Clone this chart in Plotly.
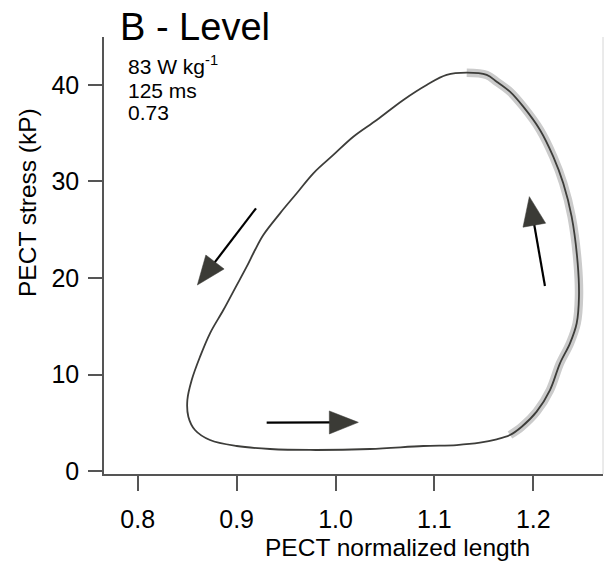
import numpy as np
import plotly.graph_objects as go

# ---- data ----
loop_x = [1.1327, 1.1124, 1.0922, 1.0686, 1.0417, 1.0180, 0.9978, 0.9776, 0.9608, 0.9439,
          0.9270, 0.9186, 0.9102, 0.8984, 0.8866, 0.8731, 0.8630, 0.8546, 0.8502, 0.8512,
          0.8579, 0.8731, 0.9001, 0.9338, 0.9742, 1.0349, 1.0888, 1.1226, 1.1461, 1.1630,
          1.1764, 1.1883, 1.2034, 1.2169, 1.2270, 1.2371, 1.2439, 1.2462, 1.2449, 1.2388,
          1.2303, 1.2202, 1.2068, 1.1899, 1.1764, 1.1630, 1.1529, 1.1327]
loop_y = [41.27, 41.04, 40.00, 38.45, 36.37, 34.64, 32.75, 30.85, 28.78, 26.70,
          24.46, 22.90, 21.17, 18.93, 16.68, 14.27, 11.84, 9.43, 7.36, 5.63,
          4.25, 3.21, 2.59, 2.28, 2.18, 2.28, 2.59, 2.69, 2.93, 3.28,
          3.73, 4.59, 6.15, 8.39, 11.16, 13.23, 15.31, 18.06, 21.52, 26.35,
          29.81, 32.57, 35.34, 37.75, 39.31, 40.34, 41.04, 41.27]

# highlighted (shortening) part of the loop
highlight_x = [1.1764, 1.1883, 1.2034, 1.2169, 1.2270, 1.2371, 1.2439, 1.2462, 1.2449, 1.2388,
               1.2303, 1.2202, 1.2068, 1.1899, 1.1764, 1.1630, 1.1529, 1.1327]
highlight_y = [3.73, 4.59, 6.15, 8.39, 11.16, 13.23, 15.31, 18.06, 21.52, 26.35,
               29.81, 32.57, 35.34, 37.75, 39.31, 40.34, 41.04, 41.27]

# direction arrows: (tail x, tail y, tip x, tip y)
arrow_tail_x = [0.9196, 0.9304, 1.2118]
arrow_tail_y = [27.22, 5.01, 19.17]
arrow_tip_x = [0.8603, 1.0231, 1.1960]
arrow_tip_y = [19.27, 5.04, 28.43]

x_ticks = [0.8, 0.9, 1.0, 1.1, 1.2]
x_tick_labels = ["0.8", "0.9", "1.0", "1.1", "1.2"]
y_ticks = [0, 10, 20, 30, 40]
y_tick_labels = ["0", "10", "20", "30", "40"]

title_text = "B - Level"
info_lines = ["83 W kg<sup>-1</sup>", "125 ms", "0.73"]
x_title = "PECT normalized length"
y_title = "PECT stress (kP)"

# ---- layout geometry ----
W, H = 605, 569
ML, MR, MT, MB = 104, 2, 37, 95
PW, PH = W - ML - MR, H - MT - MB
XR = [0.7659, 1.2705]
YR = [-0.31, 44.97]
sx = PW / (XR[1] - XR[0])
sy = PH / (YR[1] - YR[0])

FONT = "Liberation Sans, Arial, Helvetica, sans-serif"
AXC = "#555555"
LINEC = "#3d3d3a"
HEADC = "#3b3b36"

fig = go.Figure()

fig.add_trace(go.Scatter(x=highlight_x, y=highlight_y, mode="lines",
                         line=dict(color="#cbcbcb", width=8.5, shape="spline", smoothing=1.0),
                         hoverinfo="skip", showlegend=False))
fig.add_trace(go.Scatter(x=loop_x, y=loop_y, mode="lines",
                         line=dict(color=LINEC, width=1.8, shape="spline", smoothing=1.0),
                         showlegend=False))

HEAD_L, HEAD_W = 29, 23
for tx0, ty0, tx1, ty1 in zip(arrow_tail_x, arrow_tail_y, arrow_tip_x, arrow_tip_y):
    # direction in pixel space
    dx = (tx1 - tx0) * sx
    dy = (ty1 - ty0) * sy
    n = np.hypot(dx, dy)
    ux, uy = dx / n, dy / n
    bx = tx1 - HEAD_L * ux / sx
    by = ty1 - HEAD_L * uy / sy
    px, py = -uy, ux
    c1 = (bx + HEAD_W / 2 * px / sx, by + HEAD_W / 2 * py / sy)
    c2 = (bx - HEAD_W / 2 * px / sx, by - HEAD_W / 2 * py / sy)
    fig.add_trace(go.Scatter(x=[tx0, bx + 2 * ux / sx], y=[ty0, by + 2 * uy / sy], mode="lines",
                             line=dict(color="black", width=2.2),
                             hoverinfo="skip", showlegend=False))
    fig.add_trace(go.Scatter(x=[tx1, c1[0], c2[0], tx1], y=[ty1, c1[1], c2[1], ty1],
                             mode="lines", fill="toself", fillcolor=HEADC,
                             line=dict(color=HEADC, width=0.5),
                             hoverinfo="skip", showlegend=False))


def px2paper_x(p):
    return (p - ML) / PW


def px2paper_y(p):
    return (H - MB - p) / PH


ann = []
ann.append(dict(text=title_text, x=px2paper_x(118), y=px2paper_y(27), xref="paper", yref="paper",
                xanchor="left", yanchor="middle", showarrow=False,
                font=dict(family=FONT, size=38, color="black")))
for line, base in zip(info_lines, [75, 98, 121]):
    ann.append(dict(text=line, x=px2paper_x(126), y=px2paper_y(base + 5.5), xref="paper", yref="paper",
                    xanchor="left", yanchor="bottom", showarrow=False,
                    font=dict(family=FONT, size=21, color="black")))
ann.append(dict(text=x_title, x=px2paper_x(397), y=px2paper_y(547), xref="paper", yref="paper",
                xanchor="center", yanchor="middle", showarrow=False,
                font=dict(family=FONT, size=24.5, color="black")))
ann.append(dict(text=y_title, x=px2paper_x(27), y=px2paper_y(203), xref="paper", yref="paper",
                xanchor="center", yanchor="middle", showarrow=False, textangle=-90,
                font=dict(family=FONT, size=24.5, color="black")))

fig.update_layout(
    width=W, height=H,
    margin=dict(l=ML, r=MR, t=MT, b=MB),
    paper_bgcolor="white", plot_bgcolor="white",
    showlegend=False,
    annotations=ann,
    shapes=[dict(type="line", xref="paper", yref="paper", x0=1, x1=1, y0=0, y1=1,
                 line=dict(color="#d6d6d6", width=1))],
    xaxis=dict(range=XR, showgrid=False, zeroline=False, showline=True, linecolor=AXC, linewidth=1.5,
               ticks="outside", ticklen=15, tickwidth=1.5, tickcolor=AXC,
               tickvals=x_ticks, ticktext=x_tick_labels,
               tickfont=dict(family=FONT, size=25, color="black"), ticklabelstandoff=7),
    yaxis=dict(range=YR, showgrid=False, zeroline=False, showline=True, linecolor=AXC, linewidth=1.5,
               ticks="outside", ticklen=14, tickwidth=1.5, tickcolor=AXC,
               tickvals=y_ticks, ticktext=y_tick_labels,
               tickfont=dict(family=FONT, size=25, color="black"), ticklabelstandoff=4),
)

fig.write_html("out.html", config={"displayModeBar": False},
               post_script="document.body.style.margin='0px';")
